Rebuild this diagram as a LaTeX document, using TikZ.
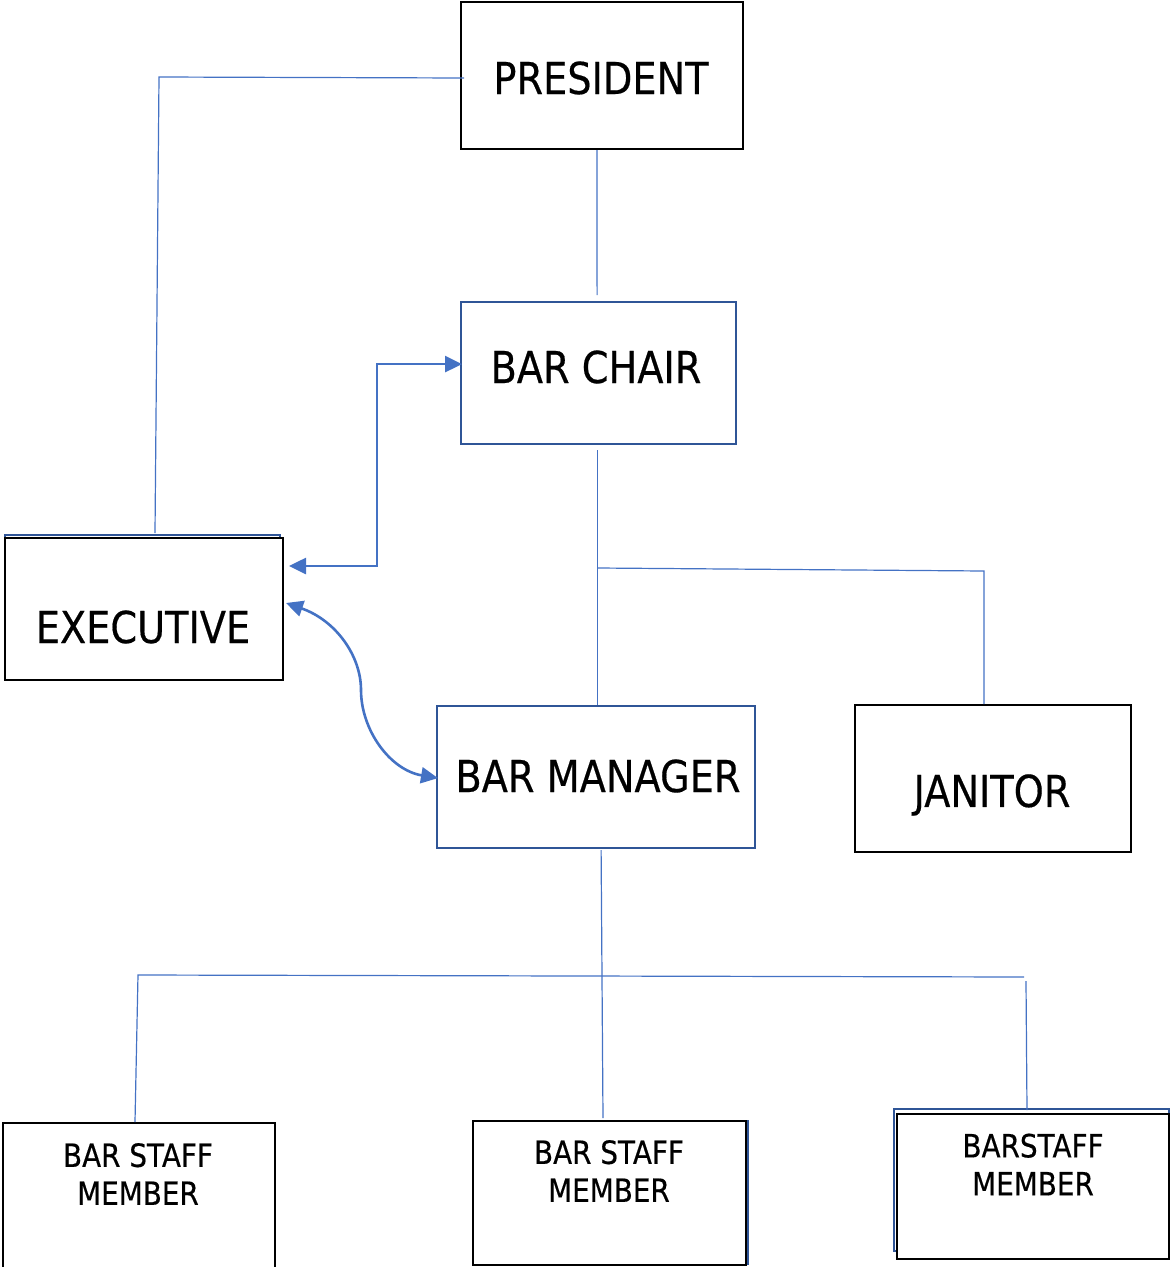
\documentclass[tikz,border=0pt]{standalone}
\usepackage{fontspec}
\setmainfont[FakeStretch=0.87,FakeBold=0.4]{DejaVu Sans}
\usetikzlibrary{arrows.meta}
\definecolor{conn}{HTML}{4472C4}
\definecolor{boxblue}{HTML}{2F5597}
\tikzset{
  box/.style={draw=black, line width=2pt, inner sep=0pt, anchor=north west},
  bbox/.style={draw=boxblue, line width=2.2pt, inner sep=0pt, anchor=north west},
  bigtxt/.style={font=\fontsize{44}{53}\selectfont, inner sep=0pt},
  smalltxt/.style={font=\fontsize{32}{38}\selectfont, inner sep=0pt, align=center},
  cline/.style={draw=conn, line width=1.2pt},
  arr/.style={draw=conn, line width=2.6pt, {Triangle[length=17pt,width=16pt]}-{Triangle[length=17pt,width=16pt]}},
}
\begin{document}
\begin{tikzpicture}[x=1pt,y=-1pt]
\useasboundingbox (0,0) rectangle (1170,1267);
% background blue boxes (partly hidden)
\node[bbox, minimum width=275pt, minimum height=142pt] (exb) at (4,534) {};
\node[bbox, minimum width=274pt, minimum height=143pt] (s2b) at (473,1120) {};
\node[bbox, minimum width=275pt, minimum height=142pt] (s3b) at (893,1108) {};
% boxes
\node[box, minimum width=282pt, minimum height=147pt] (pr) at (460,1) {};
\node[bbox, minimum width=275pt, minimum height=142pt] (ch) at (460,301) {};
\node[box, fill=white, minimum width=278pt, minimum height=142pt] (ex) at (4,537) {};
\node[bbox, minimum width=318pt, minimum height=142pt] (bm) at (436,705) {};
\node[box, minimum width=276pt, minimum height=147pt] (jn) at (854,704) {};
\node[box, minimum width=272pt, minimum height=150pt] (s1) at (2,1122) {};
\node[box, fill=white, minimum width=273pt, minimum height=144pt] (s2) at (472,1120) {};
\node[box, fill=white, minimum width=272pt, minimum height=145pt] (s3) at (896,1113) {};
% texts
\node[bigtxt] (prt) at (601,78) {PRESIDENT};
\node[bigtxt] (cht) at (596,367) {BAR CHAIR};
\node[bigtxt] (ext) at (143,627) {EXECUTIVE};
\node[bigtxt] (bmt) at (598,776) {BAR MANAGER};
\node[bigtxt] (jnt) at (992,795) {JANITOR};
\node[smalltxt] (s1t) at (138,1174) {BAR STAFF\\MEMBER};
\node[smalltxt] (s2t) at (609,1171) {BAR STAFF\\MEMBER};
\node[smalltxt] (s3t) at (1033,1164.5) {BARSTAFF\\MEMBER};
% connectors
\coordinate (pl) at (159,77);
\draw[cline] ([xshift=4pt,yshift=-2.5pt]pr.west) -- (pl) -- ([xshift=11pt,yshift=4pt]ex.north);
\draw[cline] ([xshift=-5pt]pr.south) -- ([xshift=-1.5pt,yshift=6pt]ch.north);
\draw[cline] ([xshift=-1.5pt,yshift=-5pt]ch.south) -- ([xshift=1pt]bm.north);
\coordinate (jb1) at (598,568);
\coordinate (jb2) at (984,571);
\draw[cline] (jb1) -- (jb2) -- ([xshift=-9pt]jn.north);
\draw[cline] ([xshift=5pt,yshift=-1pt]bm.south) -- ([xshift=-6.5pt,yshift=2pt]s2.north);
\coordinate (hl) at (138,975);
\coordinate (hr) at (1024,977);
\draw[cline] (hr) -- (hl) -- ([xshift=-4pt]s1.north);
\coordinate (hr2) at (1026,981);
\draw[cline] (hr2) -- ([xshift=-6pt,yshift=3pt]s3.north);
% arrows
\draw[arr] ([xshift=5pt,yshift=43pt]ex.east) -- ++(88,0) |- ([xshift=2pt,yshift=9pt]ch.west);
\coordinate (cm) at (361,690);
\draw[arr] ([xshift=2pt,yshift=6pt]ex.east) .. controls (335,620) and (361,655) .. (cm) .. controls (361,730) and (390,770) .. ([xshift=2pt,yshift=-1pt]bm.west);
\end{tikzpicture}
\end{document}
